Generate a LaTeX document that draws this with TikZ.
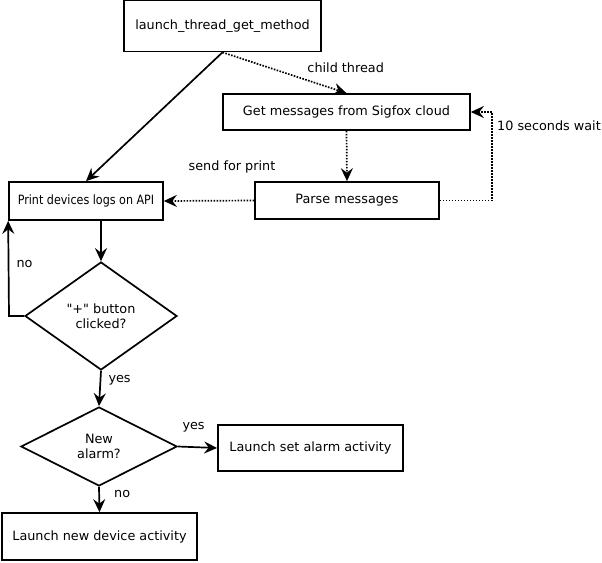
\documentclass[tikz,border=0pt]{standalone}
\usepackage{fontspec}
\usepackage{graphicx}
\newfontfamily\dvs{DejaVu Sans}
\usetikzlibrary{shapes.geometric,arrows.meta,calc}
\begin{document}
\begin{tikzpicture}[x=1pt,y=-1pt,
  every node/.style={font=\dvs\fontsize{12.8}{15}\selectfont},
  box/.style={draw,line width=1.7pt,rectangle,inner sep=0pt,anchor=center},
  dec/.style={draw,line width=1.7pt,diamond,inner sep=0pt,aspect=1.4,align=center},
  arr/.style={line width=1.7pt,-{Stealth[length=13pt,width=12pt,inset=4.5pt]}},
  dots/.style={arr,dash pattern=on 1.6pt off 1.4pt,line width=1.7pt},
  lbl/.style={inner sep=1pt,anchor=center}
]
\useasboundingbox (0,0) rectangle (602,562);
\node[box,minimum width=197pt,minimum height=51pt] (launch) at (222.5,26) {launch\_thread\_get\_method};
\node[box,minimum width=247pt,minimum height=36pt] (get) at (346.5,112) {Get messages from Sigfox cloud};
\node[box,minimum width=154pt,minimum height=38pt] (print) at (86,201) {\scalebox{0.87}[1]{Print devices logs on API}};
\node[box,minimum width=184pt,minimum height=37pt] (parse) at (347,200.5) {Parse messages};
\node[dec,minimum width=152pt,minimum height=108pt] (d1) at (101,316) {"+" button\\clicked?};
\node[dec,minimum width=156pt,minimum height=79pt] (d2) at (99,446.5) {New\\alarm?};
\node[box,minimum width=185pt,minimum height=46pt] (alarm) at (310.5,448) {Launch set alarm activity};
\node[box,minimum width=195pt,minimum height=47pt] (newdev) at (99.5,536.5) {Launch new device activity};
\coordinate (loopR) at (492,112);
\coordinate (loopL) at (9,316);

\draw[arr] (launch.south) -- (print.north);
\draw[dots] (launch.south) -- node[lbl,pos=0.55,xshift=55pt,yshift=7pt] {child thread} (get.north);
\draw[dots] (get.south) -- (parse.north);
\draw[dots] (parse.west) -- node[lbl,pos=0.5,xshift=23pt,yshift=34pt] {send for print} (print.east);
\draw[dots] (parse.east) -| (loopR) -- node[lbl,pos=0,xshift=57pt,yshift=-14pt] {10 seconds wait} (get.east);
\draw[arr] (print.south -| d1.north) -- (d1.north);
\draw[arr] (d1.west) -- (loopL) -- node[lbl,pos=0.55,xshift=16pt] {no} (print.south west);
\draw[arr] (d1.south) -- node[lbl,pos=0.2,xshift=19pt,yshift=-2pt] {yes} (d2.north);
\draw[arr] (d2.east) -- node[lbl,pos=0.4,yshift=20pt] {yes} (alarm.west);
\draw[arr] (d2.south) -- node[lbl,pos=0.3,xshift=23pt] {no} (newdev.north);
\end{tikzpicture}
\end{document}
